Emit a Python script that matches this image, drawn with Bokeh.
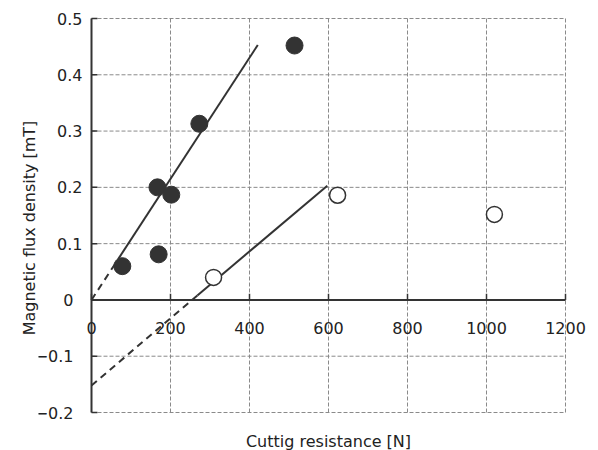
from bokeh.plotting import figure
from bokeh.models import Range1d, FixedTicker
from bokeh.embed import file_html
from bokeh.resources import INLINE
from bokeh.core.properties import value

# measured points
filled_x = [78, 167, 170, 202, 273, 514]
filled_y = [0.060, 0.200, 0.081, 0.187, 0.313, 0.452]
open_x = [309, 623, 1020]
open_y = [0.040, 0.186, 0.152]

# regression lines: dashed extrapolation and solid part
fit1_dash_x = [0, 68]
fit1_dash_y = [0.0, 0.073]
fit1_solid_x = [68, 421]
fit1_solid_y = [0.073, 0.453]
fit2_dash_x = [0, 268]
fit2_dash_y = [-0.152, 0.008]
fit2_solid_x = [268, 597]
fit2_solid_y = [0.008, 0.203]

x_ticks = [0, 200, 400, 600, 800, 1000, 1200]
x_tick_labels = ["0", "200", "400", "600", "800", "1000", "1200"]
y_ticks_pos = [0.1, 0.2, 0.3, 0.4, 0.5]
y_tick_labels_pos = ["0.1", "0.2", "0.3", "0.4", "0.5"]
y_ticks_neg = [-0.2, -0.1, 0]
y_tick_labels_neg = ["\u22120.2", "\u22120.1", "0"]
x_title = "Cuttig resistance [N]"
y_title = "Magnetic flux density [mT]"

X_MIN, X_MAX = 0, 1200
Y_MIN, Y_MAX = -0.2, 0.5
y_ticks = y_ticks_neg + y_ticks_pos

FONT = "DejaVu Sans"
DARK = "#333333"
TEXT = "#222222"
GRID = "#8a8a8a"

# the frame is larger than the data box so that tick labels and the x title are not clipped
p = figure(width=590, height=450, output_backend="svg", toolbar_location=None,
           x_range=Range1d(-134.18, 1263.29), y_range=Range1d(-0.26751, 0.52310),
           min_border_left=38, min_border_right=0, min_border_top=5, min_border_bottom=0)
p.background_fill_color = "white"
p.border_fill_color = "white"
p.outline_line_color = None
p.xgrid.visible = False
p.ygrid.visible = False
p.xaxis.visible = False

# left axis only carries the title
ya = p.yaxis[0]
ya.ticker = FixedTicker(ticks=[])
ya.axis_line_color = None
ya.major_tick_line_color = None
ya.minor_tick_line_color = None
ya.major_tick_out = 0
ya.major_tick_in = 0
ya.axis_label = y_title
ya.axis_label_text_font = FONT
ya.axis_label_text_font_size = "16px"
ya.axis_label_text_font_style = "normal"
ya.axis_label_text_color = TEXT
ya.axis_label_standoff = 0

# dashed grid inside the data box (its edges form the dashed frame)
gx = [t for t in x_ticks if t > X_MIN]
p.segment(x0=gx, y0=[Y_MIN] * len(gx), x1=gx, y1=[Y_MAX] * len(gx),
          line_color=GRID, line_width=1, line_dash="4 2")
p.segment(x0=[X_MIN] * len(y_ticks), y0=y_ticks, x1=[X_MAX] * len(y_ticks), y1=y_ticks,
          line_color=GRID, line_width=1, line_dash="4 2")

# axis lines: y axis at x = 0, x axis at y = 0
p.segment(x0=[X_MIN], y0=[Y_MIN], x1=[X_MIN], y1=[Y_MAX], line_color=DARK, line_width=2)
p.segment(x0=[X_MIN], y0=[0], x1=[X_MAX], y1=[0], line_color=DARK, line_width=2)
# ticks pointing into the plot
p.segment(x0=[X_MIN] * len(y_ticks), y0=y_ticks, x1=[X_MIN + 15] * len(y_ticks), y1=y_ticks,
          line_color=DARK, line_width=1.5)
p.segment(x0=x_ticks, y0=[0] * len(x_ticks), x1=x_ticks, y1=[0.011] * len(x_ticks),
          line_color=DARK, line_width=1.5)

# tick labels
p.text(x=x_ticks, y=[-0.05] * len(x_ticks), text=x_tick_labels,
       text_font=value(FONT), text_font_size="16px", text_color=TEXT,
       text_align="center", text_baseline="middle")
p.text(x=[X_MIN] * len(y_ticks_pos), y=y_ticks_pos, text=y_tick_labels_pos, x_offset=-9,
       text_font=value(FONT), text_font_size="16px", text_color=TEXT,
       text_align="right", text_baseline="middle")
p.text(x=[X_MIN] * len(y_ticks_neg), y=y_ticks_neg, text=y_tick_labels_neg, x_offset=-18,
       text_font=value(FONT), text_font_size="16px", text_color=TEXT,
       text_align="right", text_baseline="middle")

# x title, centred under the data box
p.text(x=[(X_MIN + X_MAX) / 2], y=[Y_MIN - 0.0515], text=[x_title],
       text_font=value(FONT), text_font_size="16px", text_color=TEXT,
       text_align="center", text_baseline="middle")

# regression lines
p.line(fit1_dash_x, fit1_dash_y, line_color=DARK, line_width=2, line_dash="7 5")
p.line(fit1_solid_x, fit1_solid_y, line_color=DARK, line_width=2)
p.line(fit2_dash_x, fit2_dash_y, line_color=DARK, line_width=2, line_dash="7 5")
p.line(fit2_solid_x, fit2_solid_y, line_color=DARK, line_width=2)

# markers
p.scatter(filled_x, filled_y, size=17, fill_color=DARK, line_color=DARK, line_width=1)
p.scatter(open_x, open_y, size=16, fill_color="white", line_color=DARK, line_width=1.5)

open("out.html", "w").write(file_html(p, INLINE))
